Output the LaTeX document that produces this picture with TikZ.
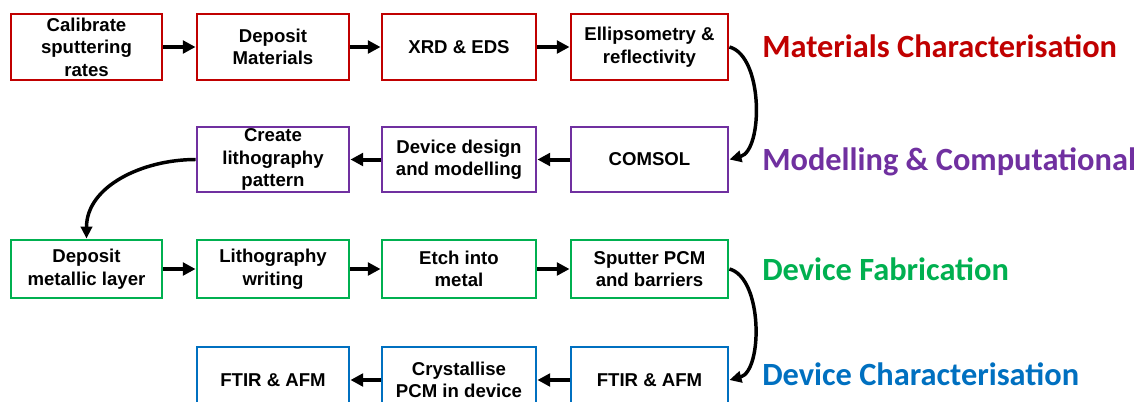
\documentclass[tikz,border=0pt]{standalone}
\usepackage{fontspec}
\setmainfont{Liberation Sans}
\newfontfamily\calib{Carlito}
\usetikzlibrary{arrows.meta}
\definecolor{mred}{HTML}{C00000}
\definecolor{mpurple}{HTML}{7030A0}
\definecolor{mgreen}{HTML}{00B050}
\definecolor{mblue}{HTML}{0070C0}
\begin{document}
\begin{tikzpicture}[x=0.75pt,y=-0.75pt,
  box/.style={draw, line width=2.2pt, fill=white, align=center, inner sep=0pt,
    font=\fontsize{13.95pt}{16.9pt}\selectfont\bfseries},
  wa/.style={minimum width=113.25pt},
  wb/.style={minimum width=114pt},
  wc/.style={minimum width=115.5pt},
  wd/.style={minimum width=117.75pt},
  ha/.style={minimum height=49.5pt},
  hb/.style={minimum height=48.75pt},
  hc/.style={minimum height=43.5pt},
  arr/.style={line width=3pt, -{Triangle[length=9.5pt,width=9.5pt]}},
  carr/.style={line width=2.6pt, -{Triangle[length=9pt,width=8.5pt]}},
  lab/.style={anchor=base west, inner sep=0pt,
    font=\calib\fontsize{24.3pt}{29pt}\selectfont\bfseries}]
\useasboundingbox (0,0) rectangle (1146,401);
\clip (0,0) rectangle (1146,401);

% Row 1
\node[box, draw=mred, wa, ha] (cal) at (86.5,47) {Calibrate\\sputtering\\rates};
\node[box, draw=mred, wb, ha] (dep) at (273,47) {Deposit\\Materials};
\node[box, draw=mred, wc, ha] (xrd) at (459,47) {XRD \& EDS};
\node[box, draw=mred, wd, ha] (ell) at (649.5,47) {Ellipsometry \&\\reflectivity};

% Row 2
\node[box, draw=mpurple, wb, hb] (cre) at (273,159.5) {Create\\lithography\\pattern};
\node[box, draw=mpurple, wc, hb] (dev) at (459,159.5) {Device design\\and modelling};
\node[box, draw=mpurple, wd, hb] (com) at (649.5,159.5) {COMSOL};

% Row 3
\node[box, draw=mgreen, wa, hc] (dml) at (86.5,269) {Deposit\\metallic layer};
\node[box, draw=mgreen, wb, hc] (lit) at (273,269) {Lithography\\writing};
\node[box, draw=mgreen, wc, hc] (etc) at (459,269) {Etch into\\metal};
\node[box, draw=mgreen, wd, hc] (spu) at (649.5,269) {Sputter PCM\\and barriers};

% Row 4
\node[box, draw=mblue, wb, ha] (ftl) at (273,380) {FTIR \& AFM};
\node[box, draw=mblue, wc, ha] (cry) at (459,380) {Crystallise\\PCM in device};
\node[box, draw=mblue, wd, ha] (ftr) at (649.5,380) {FTIR \& AFM};

% Straight arrows
\draw[arr] (cal.east) -- (dep.west);
\draw[arr] (dep.east) -- (xrd.west);
\draw[arr] (xrd.east) -- (ell.west);
\draw[arr] (com.west) -- (dev.east);
\draw[arr] (dev.west) -- (cre.east);
\draw[arr] (dml.east) -- (lit.west);
\draw[arr] (lit.east) -- (etc.west);
\draw[arr] (etc.east) -- (spu.west);
\draw[arr] (ftr.west) -- (cry.east);
\draw[arr] (cry.west) -- (ftl.east);

% Curved arrows
\draw[carr] (ell.east) to[out=-15,in=15,looseness=0.8] (com.east);
\draw[carr] (spu.east) to[out=-15,in=15,looseness=0.8] (ftr.east);
\draw[carr] (cre.west) to[out=180,in=90,looseness=1] (dml.north);

% Stage labels
\node[lab, text=mred] (l1) at (762,57) {Materials Characterisation};
\node[lab, text=mpurple] (l2) at (762,170) {Modelling \& Computational};
\node[lab, text=mgreen] (l3) at (762,280) {Device Fabrication};
\node[lab, text=mblue] (l4) at (762,385) {Device Characterisation};
\end{tikzpicture}
\end{document}
